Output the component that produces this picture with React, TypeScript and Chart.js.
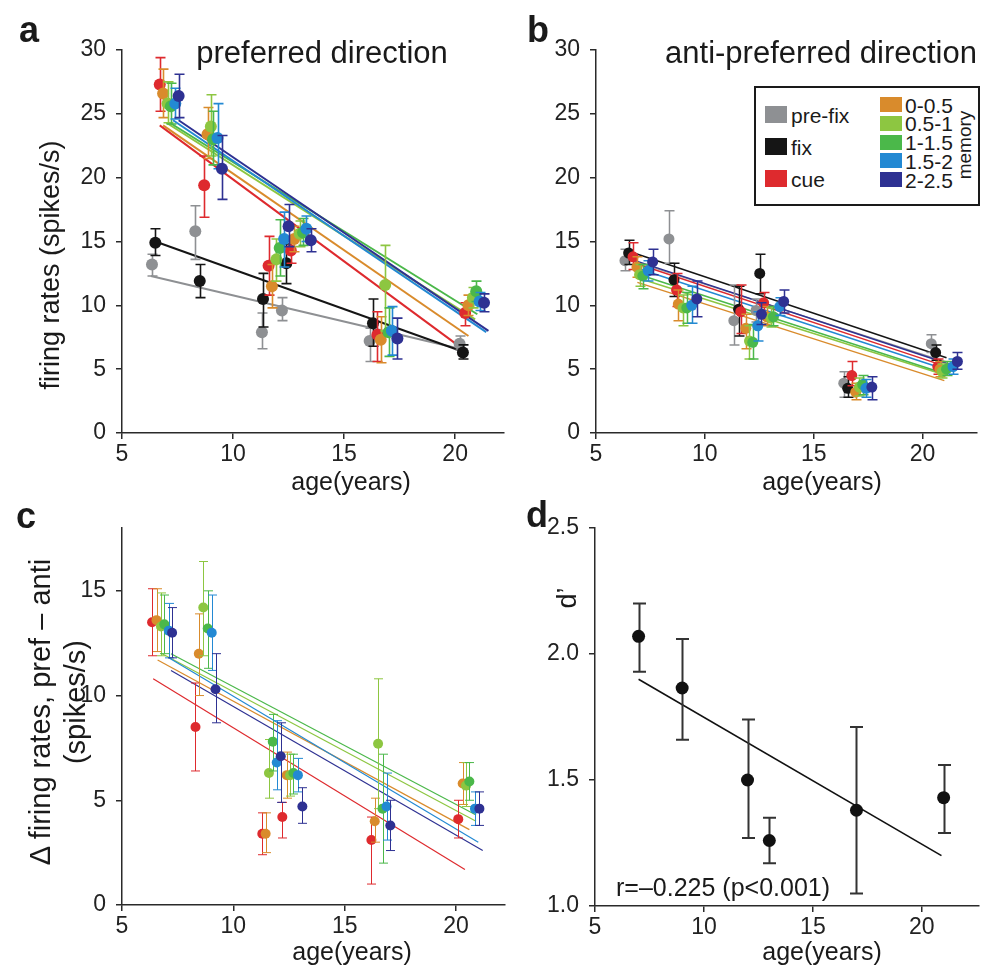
import React, { useEffect, useRef } from 'react';
import { Chart, registerables } from 'chart.js';

Chart.register(...registerables);

// point: [age, mean, lower end of error bar, upper end of error bar]
type P = [number, number, number, number];
// fitted line: [x1, y1, x2, y2]
type L = [number, number, number, number];

const FONT = '"Liberation Sans", Arial, Helvetica, sans-serif';

const C_PREFIX = '#8e9093';
const C_FIX = '#151515';
const C_CUE = '#de2a2e';
const C_M1 = '#d98b2c';
const C_M2 = '#8dc641';
const C_M3 = '#4bb84a';
const C_M4 = '#2389d3';
const C_M5 = '#2e3192';

const LEGEND_LEFT = ['pre-fix', 'fix', 'cue'];
const LEGEND_RIGHT = ['0-0.5', '0.5-1', '1-1.5', '1.5-2', '2-2.5'];

// ---------- panel a : preferred direction ----------
const A_PREFIX: P[] = [[6.35, 13.2, 12.3, 14.0], [8.3, 15.8, 13.6, 17.8], [11.3, 7.9, 6.6, 9.4], [12.2, 9.6, 8.8, 10.6], [16.15, 7.2, 5.6, 8.2], [20.2, 7.0, 6.5, 7.6]];
const A_FIX: P[] = [[6.5, 14.9, 13.9, 16.0], [8.5, 11.9, 10.6, 13.2], [11.35, 10.5, 8.3, 12.5], [12.4, 13.3, 11.7, 14.8], [16.3, 8.6, 6.8, 10.5], [20.35, 6.3, 5.8, 6.9]];
const A_CUE: P[] = [[6.7, 27.3, 25.2, 29.4], [8.7, 19.4, 16.9, 21.7], [11.6, 13.1, 10.8, 15.4], [12.6, 14.3, 13.3, 15.3], [16.5, 7.7, 5.6, 9.5], [20.45, 9.4, 8.4, 10.2]];
const A_M1: P[] = [[6.85, 26.6, 24.7, 28.5], [8.85, 23.4, 21.5, 25.5], [11.75, 11.5, 9.8, 13.2], [12.75, 15.2, 14.2, 16.2], [16.65, 7.3, 5.5, 9.1], [20.6, 10.0, 9.2, 10.8]];
const A_M2: P[] = [[7.05, 25.8, 24.3, 27.5], [9.0, 24.0, 21.7, 26.5], [11.95, 13.6, 11.9, 15.2], [13.0, 15.6, 14.6, 16.6], [16.85, 11.6, 8.0, 14.7], [20.8, 10.6, 9.8, 11.4]];
const A_M3: P[] = [[7.2, 25.6, 24.2, 27.4], [9.1, 23.0, 21.0, 25.2], [12.1, 14.5, 12.3, 16.7], [13.15, 15.7, 14.7, 16.8], [17.0, 7.9, 6.0, 9.8], [20.95, 11.1, 10.3, 11.9]];
const A_M4: P[] = [[7.4, 25.8, 24.6, 27.0], [9.3, 23.1, 20.7, 25.8], [12.3, 15.2, 13.0, 17.3], [13.3, 16.0, 15.0, 17.0], [17.15, 8.0, 6.1, 9.9], [21.1, 10.3, 9.6, 11.0]];
const A_M5: P[] = [[7.55, 26.4, 24.7, 28.1], [9.5, 20.7, 18.3, 23.3], [12.5, 16.2, 14.6, 17.9], [13.5, 15.1, 14.2, 16.0], [17.4, 7.4, 5.8, 9.0], [21.3, 10.2, 9.5, 10.9]];

const A_FIT_PREFIX: L = [6.3, 12.3, 20.2, 6.6];
const A_FIT_FIX: L = [6.5, 15.0, 20.3, 6.4];
const A_FIT_CUE: L = [6.7, 24.1, 20.1, 6.9];
const A_FIT_M1: L = [6.85, 24.1, 20.6, 7.6];
const A_FIT_M2: L = [7.0, 24.3, 20.9, 8.9];
const A_FIT_M3: L = [7.15, 24.3, 21.0, 9.3];
const A_FIT_M4: L = [7.3, 24.5, 21.4, 7.9];
const A_FIT_M5: L = [7.55, 24.5, 21.5, 8.0];

// ---------- panel b : anti-preferred direction ----------
const B_PREFIX: P[] = [[6.33, 13.5, 12.7, 14.4], [8.35, 15.2, 13.3, 17.4], [11.33, 8.8, 6.9, 11.6], [12.35, 9.6, 8.7, 10.5], [16.38, 3.9, 2.8, 4.8], [20.4, 7.0, 6.3, 7.7]];
const B_FIX: P[] = [[6.5, 14.1, 13.2, 15.1], [8.58, 12.0, 10.7, 13.3], [11.55, 9.7, 7.6, 11.5], [12.52, 12.5, 10.9, 14.0], [16.56, 3.5, 2.8, 4.4], [20.6, 6.3, 5.7, 6.9]];
const B_CUE: P[] = [[6.7, 13.8, 12.8, 14.9], [8.7, 11.2, 9.9, 12.5], [11.65, 9.5, 7.8, 11.6], [12.7, 10.2, 9.4, 11.0], [16.75, 4.5, 3.7, 5.6], [20.7, 5.2, 4.6, 5.8]];
const B_M1: P[] = [[6.88, 13.0, 12.2, 13.8], [8.78, 10.1, 8.8, 11.2], [11.88, 8.2, 6.6, 9.3], [12.85, 9.1, 8.4, 9.9], [16.93, 3.2, 2.6, 3.9], [20.8, 5.0, 4.4, 5.6]];
const B_M2: P[] = [[7.0, 12.4, 11.5, 13.2], [9.0, 9.8, 8.4, 10.8], [12.05, 7.2, 5.8, 8.4], [13.03, 9.0, 8.3, 9.8], [17.1, 3.6, 2.9, 4.3], [20.9, 4.8, 4.3, 5.4]];
const B_M3: P[] = [[7.15, 12.3, 11.3, 13.2], [9.17, 9.8, 8.6, 11.0], [12.2, 7.1, 5.8, 8.5], [13.15, 9.1, 8.4, 9.9], [17.25, 3.8, 3.0, 4.5], [21.1, 5.0, 4.5, 5.6]];
const B_M4: P[] = [[7.4, 12.7, 11.9, 13.5], [9.4, 10.0, 8.6, 11.5], [12.43, 8.4, 7.2, 9.5], [13.44, 9.9, 9.2, 10.6], [17.4, 3.5, 2.8, 4.2], [21.4, 5.2, 4.6, 5.8]];
const B_M5: P[] = [[7.6, 13.4, 12.4, 14.4], [9.63, 10.5, 9.1, 11.9], [12.6, 9.3, 8.5, 10.2], [13.62, 10.3, 9.4, 11.2], [17.67, 3.6, 2.6, 4.4], [21.6, 5.6, 5.0, 6.3]];

const B_FIT_PREFIX: L = [6.3, 13.7, 21.0, 5.6];
const B_FIT_FIX: L = [6.4, 14.3, 21.1, 5.9];
const B_FIT_CUE: L = [6.8, 13.3, 21.1, 5.2];
const B_FIT_M1: L = [6.9, 11.8, 21.0, 4.1];
const B_FIT_M2: L = [7.0, 12.1, 21.1, 4.5];
const B_FIT_M3: L = [7.0, 12.4, 21.1, 4.6];
const B_FIT_M4: L = [6.9, 12.9, 21.2, 4.9];
const B_FIT_M5: L = [6.8, 13.5, 21.2, 5.4];

// ---------- panel c : pref - anti ----------
const C_CUE_PTS: P[] = [[6.35, 13.5, 11.9, 15.1], [8.3, 8.5, 6.4, 10.6], [11.3, 3.4, 2.4, 4.4], [12.2, 4.2, 3.2, 4.9], [16.2, 3.1, 1.0, 4.2], [20.1, 4.1, 3.2, 5.0]];
const C_M1_PTS: P[] = [[6.55, 13.6, 12.1, 15.1], [8.45, 12.0, 10.0, 13.9], [11.45, 3.4, 2.5, 4.4], [12.4, 6.2, 5.1, 7.3], [16.35, 4.0, 3.0, 5.1], [20.3, 5.8, 4.8, 6.8]];
const C_M2_PTS: P[] = [[6.75, 13.3, 11.9, 14.9], [8.65, 14.2, 11.9, 16.4], [11.6, 6.3, 5.1, 7.9], [12.55, 6.2, 5.2, 7.2], [16.5, 7.7, 4.6, 10.8], [20.45, 5.7, 4.7, 6.8]];
const C_M3_PTS: P[] = [[6.9, 13.4, 12.0, 14.8], [8.85, 13.2, 11.3, 15.0], [11.77, 7.8, 6.4, 9.1], [12.7, 6.3, 5.3, 7.2], [16.7, 4.6, 2.0, 7.2], [20.6, 5.9, 5.0, 6.8]];
const C_M4_PTS: P[] = [[7.1, 13.1, 11.8, 14.4], [9.03, 13.0, 11.2, 14.8], [11.95, 6.8, 5.5, 8.8], [12.9, 6.2, 5.4, 7.0], [16.88, 4.7, 3.1, 6.3], [20.85, 4.6, 3.8, 5.4]];
const C_M5_PTS: P[] = [[7.25, 13.0, 11.8, 14.2], [9.2, 10.3, 8.7, 12.0], [12.13, 7.1, 4.9, 8.7], [13.1, 4.7, 3.9, 5.6], [17.05, 3.8, 2.6, 5.0], [21.05, 4.6, 3.8, 5.4]];

const C_FIT_CUE: L = [6.4, 10.8, 20.4, 1.7];
const C_FIT_M1: L = [6.6, 11.7, 20.6, 3.6];
const C_FIT_M2: L = [6.8, 12.0, 20.9, 4.0];
const C_FIT_M3: L = [7.2, 12.0, 20.9, 4.3];
const C_FIT_M4: L = [7.1, 11.8, 21.0, 3.0];
const C_FIT_M5: L = [7.2, 11.2, 21.2, 2.6];

// ---------- panel d : d' ----------
const D_AGE = [7, 9, 12, 13, 17, 21];
const D_VAL = [2.07, 1.865, 1.5, 1.26, 1.38, 1.43];
const D_LO = [1.93, 1.66, 1.27, 1.17, 1.05, 1.29];
const D_HI = [2.2, 2.06, 1.74, 1.35, 1.71, 1.56];
const D_FIT: L = [7, 1.9, 20.9, 1.2];

interface Series { pts: P[]; fit: L | null; color: string; }

const errorBarPlugin = {
  id: 'errorBars',
  beforeDatasetDraw(chart: any, args: any) {
    const ds = chart.data.datasets[args.index];
    if (!ds.err) return;
    const xs = chart.scales.x;
    const ys = chart.scales.y;
    const ctx = chart.ctx;
    ctx.save();
    ctx.strokeStyle = ds.errColor;
    ctx.lineWidth = ds.errWidth;
    const cap = ds.cap;
    ds.data.forEach((p: any, j: number) => {
      const [lo, hi] = ds.err[j];
      const px = Math.round(xs.getPixelForValue(p.x)) + 0.5;
      const y1 = ys.getPixelForValue(lo);
      const y2 = ys.getPixelForValue(hi);
      ctx.beginPath();
      ctx.moveTo(px, y1); ctx.lineTo(px, y2);
      ctx.moveTo(px - cap, y1); ctx.lineTo(px + cap, y1);
      ctx.moveTo(px - cap, y2); ctx.lineTo(px + cap, y2);
      ctx.stroke();
    });
    ctx.restore();
  },
};

interface Cfg {
  series: Series[];
  xMin: number; xMax: number; yMin: number; yMax: number; yStep: number;
  yW: number; xH: number; padTop: number; padRight: number;
  r: number; lineW: number; errW: number; cap: number; errColor?: string;
  yFmt?: (v: number) => string;
}

function multipleOf(v: number, s: number) {
  const q = v / s;
  return Math.abs(q - Math.round(q)) < 1e-6;
}

function buildConfig(o: Cfg): any {
  const datasets: any[] = [];
  o.series.forEach((s, i) => {
    if (!s.fit) return;
    datasets.push({
      data: [{ x: s.fit[0], y: s.fit[1] }, { x: s.fit[2], y: s.fit[3] }],
      showLine: true, borderColor: s.color, borderWidth: o.lineW,
      pointRadius: 0, fill: false, order: 200 - i,
    });
  });
  o.series.forEach((s, i) => {
    datasets.push({
      data: s.pts.map((p) => ({ x: p[0], y: p[1] })),
      err: s.pts.map((p) => [p[2], p[3]]),
      errColor: o.errColor || s.color, errWidth: o.errW, cap: o.cap,
      backgroundColor: s.color, borderColor: s.color, pointRadius: o.r,
      pointBorderWidth: 0, showLine: false, order: 100 - i,
    });
  });
  const axisCol = '#2a2a2a';
  const tickFont = { family: FONT, size: 23 };
  return {
    type: 'scatter',
    data: { datasets },
    plugins: [errorBarPlugin],
    options: {
      animation: false,
      responsive: false,
      maintainAspectRatio: false,
      events: [],
      layout: { padding: { top: o.padTop, right: o.padRight, left: 0, bottom: 0 } },
      plugins: { legend: { display: false }, tooltip: { enabled: false }, title: { display: false } },
      scales: {
        x: {
          type: 'linear', min: o.xMin, max: o.xMax,
          ticks: { stepSize: 5, includeBounds: false, font: tickFont, color: '#222', padding: 2, maxRotation: 0, autoSkip: false },
          afterBuildTicks: (s: any) => { s.ticks = s.ticks.filter((t: any) => multipleOf(t.value, 5)); },
          afterFit: (s: any) => { s.height = o.xH; s.paddingLeft = 0; s.paddingRight = 0; },
          grid: { drawOnChartArea: false, drawTicks: true, tickLength: 6, color: axisCol, lineWidth: 1.5 },
          border: { display: true, color: axisCol, width: 1.5 },
        },
        y: {
          type: 'linear', min: o.yMin, max: o.yMax,
          ticks: { stepSize: o.yStep, includeBounds: false, font: tickFont, color: '#222', padding: 10, autoSkip: false,
            callback: (v: number) => (o.yFmt ? o.yFmt(v) : String(v)) },
          afterBuildTicks: (s: any) => { s.ticks = s.ticks.filter((t: any) => multipleOf(t.value - o.yMin, o.yStep)); },
          afterFit: (s: any) => { s.width = o.yW; s.paddingTop = 0; s.paddingBottom = 0; },
          grid: { drawOnChartArea: false, drawTicks: true, tickLength: 6, color: axisCol, lineWidth: 1.5 },
          border: { display: true, color: axisCol, width: 1.5 },
        },
      },
    },
  };
}

const SERIES_A: Series[] = [
  { pts: A_PREFIX, fit: A_FIT_PREFIX, color: C_PREFIX },
  { pts: A_FIX, fit: A_FIT_FIX, color: C_FIX },
  { pts: A_CUE, fit: A_FIT_CUE, color: C_CUE },
  { pts: A_M1, fit: A_FIT_M1, color: C_M1 },
  { pts: A_M2, fit: A_FIT_M2, color: C_M2 },
  { pts: A_M3, fit: A_FIT_M3, color: C_M3 },
  { pts: A_M4, fit: A_FIT_M4, color: C_M4 },
  { pts: A_M5, fit: A_FIT_M5, color: C_M5 },
];
const SERIES_B: Series[] = [
  { pts: B_PREFIX, fit: B_FIT_PREFIX, color: C_PREFIX },
  { pts: B_FIX, fit: B_FIT_FIX, color: C_FIX },
  { pts: B_CUE, fit: B_FIT_CUE, color: C_CUE },
  { pts: B_M1, fit: B_FIT_M1, color: C_M1 },
  { pts: B_M2, fit: B_FIT_M2, color: C_M2 },
  { pts: B_M3, fit: B_FIT_M3, color: C_M3 },
  { pts: B_M4, fit: B_FIT_M4, color: C_M4 },
  { pts: B_M5, fit: B_FIT_M5, color: C_M5 },
];
const SERIES_C: Series[] = [
  { pts: C_CUE_PTS, fit: C_FIT_CUE, color: C_CUE },
  { pts: C_M1_PTS, fit: C_FIT_M1, color: C_M1 },
  { pts: C_M2_PTS, fit: C_FIT_M2, color: C_M2 },
  { pts: C_M3_PTS, fit: C_FIT_M3, color: C_M3 },
  { pts: C_M4_PTS, fit: C_FIT_M4, color: C_M4 },
  { pts: C_M5_PTS, fit: C_FIT_M5, color: C_M5 },
];
const SERIES_D: Series[] = [
  { pts: D_AGE.map((a, i) => [a, D_VAL[i], D_LO[i], D_HI[i]] as P), fit: D_FIT, color: '#111111' },
];

function Panel(props: { cfg: Cfg; left: number; top: number; width: number; height: number }) {
  const ref = useRef<HTMLCanvasElement>(null);
  useEffect(() => {
    const chart = new Chart(ref.current as HTMLCanvasElement, buildConfig(props.cfg));
    return () => chart.destroy();
  }, []);
  const { left, top, width, height } = props;
  return (
    <canvas ref={ref} width={width} height={height}
      style={{ position: 'absolute', left, top, width, height, display: 'block' }} />
  );
}

function Txt(props: { x: number; y: number; size: number; rot?: number; bold?: boolean; children: React.ReactNode }) {
  const { x, y, size, rot, bold } = props;
  return (
    <div style={{ position: 'absolute', left: x, top: y, width: 0, height: 0 }}>
      <div style={{
        position: 'absolute', left: 0, top: 0, whiteSpace: 'nowrap', fontFamily: FONT, fontSize: size,
        fontWeight: bold ? 'bold' : 'normal', lineHeight: 1, color: '#1a1a1a',
        transform: `translate(-50%, -50%)${rot ? ` rotate(${rot}deg)` : ''}`,
      }}>{props.children}</div>
    </div>
  );
}

function Legend() {
  const leftCols = [C_PREFIX, C_FIX, C_CUE];
  const rightCols = [C_M1, C_M2, C_M3, C_M4, C_M5];
  return (
    <div>
      <div style={{ position: 'absolute', left: 754, top: 86, width: 222, height: 116, border: '2px solid #1a1a1a', background: '#fff' }} />
      {LEGEND_LEFT.map((t, i) => (
        <React.Fragment key={t}>
          <div style={{ position: 'absolute', left: 765, top: 106 + i * 32, width: 22, height: 17, background: leftCols[i] }} />
          <div style={{ position: 'absolute', left: 791, top: 115 + i * 32, transform: 'translateY(-50%)', fontFamily: FONT, fontSize: 21, lineHeight: 1, color: '#1a1a1a', whiteSpace: 'nowrap' }}>{t}</div>
        </React.Fragment>
      ))}
      {LEGEND_RIGHT.map((t, i) => (
        <React.Fragment key={t}>
          <div style={{ position: 'absolute', left: 880, top: 97 + i * 18.8, width: 22, height: 15, background: rightCols[i] }} />
          <div style={{ position: 'absolute', left: 905, top: 104.5 + i * 18.8, transform: 'translateY(-50%)', fontFamily: FONT, fontSize: 21, lineHeight: 1, color: '#1a1a1a', whiteSpace: 'nowrap' }}>{t}</div>
        </React.Fragment>
      ))}
      <Txt x={964} y={145} size={19} rot={-90}>memory</Txt>
    </div>
  );
}

const CFG_A: Cfg = { series: SERIES_A, xMin: 5, xMax: 22.2, yMin: 0, yMax: 30, yStep: 5, yW: 122, xH: 52, padTop: 50, padRight: 5, r: 6, lineW: 2, errW: 1.6, cap: 5 };
const CFG_B: Cfg = { series: SERIES_B, xMin: 5, xMax: 22.5, yMin: 0, yMax: 30, yStep: 5, yW: 86, xH: 52, padTop: 50, padRight: 8, r: 5.5, lineW: 1.5, errW: 1.5, cap: 5 };
const CFG_C: Cfg = { series: SERIES_C, xMin: 5, xMax: 22.2, yMin: 0, yMax: 18, yStep: 5, yW: 122, xH: 68, padTop: 38, padRight: 5, r: 5, lineW: 1.2, errW: 1, cap: 4.5 };
const CFG_D: Cfg = { series: SERIES_D, xMin: 5, xMax: 22.6, yMin: 1, yMax: 2.5, yStep: 0.5, yW: 85, xH: 67, padTop: 38, padRight: 5, r: 6.5, lineW: 1.6, errW: 2, cap: 6.5, errColor: '#333333', yFmt: (v) => v.toFixed(1) };

export default function App() {
  return (
    <div style={{ position: 'absolute', left: 0, top: 0, width: 985, height: 973, background: '#fff', overflow: 'hidden' }}>
      <Panel cfg={CFG_A} left={0} top={0} width={510} height={485} />
      <Panel cfg={CFG_B} left={510} top={0} width={475} height={485} />
      <Panel cfg={CFG_C} left={0} top={490} width={510} height={483} />
      <Panel cfg={CFG_D} left={510} top={490} width={475} height={483} />

      <Txt x={29} y={30} size={36} bold>a</Txt>
      <Txt x={538} y={30} size={36} bold>b</Txt>
      <Txt x={26} y={516} size={36} bold>c</Txt>
      <Txt x={537} y={515} size={36} bold>d</Txt>

      <Txt x={322} y={52} size={31}>preferred direction</Txt>
      <Txt x={821} y={52} size={31}>anti-preferred direction</Txt>

      <Txt x={50} y={265} size={27} rot={-90}>firing rates (spikes/s)</Txt>
      <Txt x={351} y={481} size={25}>age(years)</Txt>
      <Txt x={822} y={481} size={25}>age(years)</Txt>
      <Txt x={40} y={712} size={29} rot={-90}>Δ firing rates, pref – anti</Txt>
      <Txt x={75} y={702} size={29} rot={-90}>(spikes/s)</Txt>
      <Txt x={352} y={951} size={25}>age(years)</Txt>
      <Txt x={822} y={951} size={25}>age(years)</Txt>
      <Txt x={567} y={598} size={27} rot={-90}>d’</Txt>
      <Txt x={723} y={887} size={25}>r=–0.225 (p&lt;0.001)</Txt>

      <Legend />
    </div>
  );
}
